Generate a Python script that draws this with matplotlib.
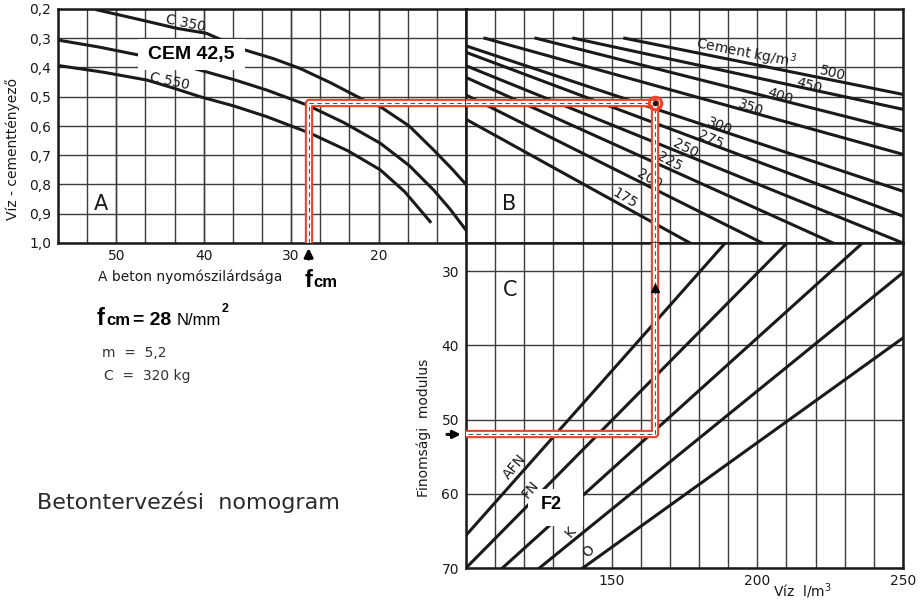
import numpy as np
import matplotlib.pyplot as plt
from matplotlib.patches import Rectangle

plt.rcParams['font.family'] = ['DejaVu Sans']

INK = '#1a1a1a'
GRID = '#3c3c3c'
RED = '#f0412a'

# ---- panel A: beton nyomószilárdsága vs víz-cementtényező (CEM 42,5)
a_x_ticks = [50, 40, 30, 20]
a_y_ticks = [0.2, 0.3, 0.4, 0.5, 0.6, 0.7, 0.8, 0.9, 1.0]
a_y_labels = ['0,2', '0,3', '0,4', '0,5', '0,6', '0,7', '0,8', '0,9', '1,0']

c350_x = [52.2, 47.5, 43.1, 39.7, 35.3, 32.0, 29.0, 25.5, 21.7, 19.8, 16.5, 13.7, 11.5, 10.0]
c350_y = [0.203, 0.235, 0.266, 0.283, 0.340, 0.370, 0.403, 0.452, 0.511, 0.534, 0.600, 0.682, 0.750, 0.800]
c450_x = [56.7, 52.0, 47.5, 44.0, 40.4, 36.5, 32.8, 28.2, 24.0, 19.8, 16.5, 13.7, 11.8, 10.0]
c450_y = [0.306, 0.330, 0.357, 0.382, 0.409, 0.442, 0.477, 0.528, 0.588, 0.659, 0.735, 0.819, 0.885, 0.956]
c550_x = [56.7, 51.5, 46.5, 43.5, 40.4, 36.5, 32.8, 27.8, 23.5, 19.8, 17.0, 14.1]
c550_y = [0.393, 0.416, 0.443, 0.470, 0.500, 0.532, 0.568, 0.625, 0.685, 0.750, 0.825, 0.927]

# ---- panel B: cement kg/m3 lines (víz vs víz-cementtényező)
b_cement = ['500', '450', '400', '350', '300', '275', '250', '225', '200', '175']
b_x0 = [154.5, 137.0, 124.0, 106.5, 100, 100, 100, 100, 100, 100]
b_y0 = [0.300, 0.300, 0.300, 0.300, 0.326, 0.348, 0.394, 0.434, 0.494, 0.577]
b_x1 = [250, 250, 250, 250, 250, 250, 250, 226.0, 201.7, 176.9]
b_y1 = [0.492, 0.543, 0.617, 0.697, 0.823, 0.908, 1.0, 1.0, 1.0, 1.0]
b_lab_x = [225.9, 217.6, 207.9, 197.6, 187.2, 183.8, 175.5, 169.7, 163.1, 154.5]
b_lab_y = [0.419, 0.462, 0.497, 0.539, 0.600, 0.648, 0.675, 0.723, 0.781, 0.846]
b_lab_rot = [-14, -16, -18, -20, -22, -24, -27, -28, -30, -31]

# ---- panel C: finomsági modulus vs víz l/m3
c_names = ['AFN', 'FN', 'F2', 'K', 'O']
c_x0 = [100, 100, 112.5, 125.2, 140.1]
c_y0 = [65.6, 70, 70, 70, 70]
c_x1 = [189.0, 210.2, 236.1, 250, 250]
c_y1 = [26.2, 26.2, 26.2, 30.2, 39.0]

# worked example: fcm = 28, w/c = 0,52, víz = 165, m = 5,2
ex_fcm = 28
ex_wc = 0.52
ex_water = 165
ex_fm = 52

fig = plt.figure(figsize=(9.23, 6.12), dpi=100)
ax_a = fig.add_axes([58 / 923, 1 - 243 / 612, 408 / 923, 234 / 612])
ax_b = fig.add_axes([466 / 923, 1 - 243 / 612, 437 / 923, 234 / 612])
ax_c = fig.add_axes([466 / 923, 1 - 568 / 612, 437 / 923, 325 / 612])


def frame(ax):
    ax.set_axisbelow(True)
    ax.grid(True, which='both', color=GRID, lw=1.0)
    ax.tick_params(which='both', length=0, colors=INK, labelsize=10)
    for s in ax.spines.values():
        s.set_color(INK)
        s.set_linewidth(1.8)


def red_path(ax, xs, ys):
    ax.plot(xs, ys, color=RED, lw=6.0, solid_capstyle='butt', solid_joinstyle='round', zorder=5)
    ax.plot(xs, ys, color='white', lw=3.0, solid_capstyle='butt', zorder=6)
    ax.plot(xs, ys, color='#555555', lw=0.8, ls=(0, (4, 3)), zorder=7)


# panel A
ax_a.set_xlim(56.67, 10)
ax_a.set_ylim(1.0, 0.2)
ax_a.set_xticks(a_x_ticks)
ax_a.set_xticks(np.linspace(10, 56.67, 15), minor=True)
ax_a.set_yticks(a_y_ticks, a_y_labels)
ax_a.tick_params(axis='x', pad=4)
ax_a.tick_params(axis='y', pad=5)
frame(ax_a)
for xs, ys in [(c350_x, c350_y), (c450_x, c450_y), (c550_x, c550_y)]:
    ax_a.plot(xs, ys, color=INK, lw=2.2, zorder=2, solid_joinstyle='round')
ax_a.add_patch(Rectangle((35.3, 0.301), 12.2, 0.108, facecolor='white', edgecolor='none', zorder=3))
ax_a.text(41.45, 0.356, 'CEM 42,5', family='Liberation Sans', weight='bold', fontsize=14,
          ha='center', va='center', color='black', zorder=4)
ax_a.text(42.1, 0.248, 'C 350', fontsize=10, rotation=-12, ha='center', va='center', color=INK, zorder=4)
ax_a.text(43.9, 0.446, 'C 550', fontsize=10, rotation=-12, ha='center', va='center', color=INK, zorder=4)
ax_a.text(51.8, 0.865, 'A', fontsize=15, ha='center', va='center', color=INK)
red_path(ax_a, [ex_fcm, ex_fcm, 10], [1.0, ex_wc, ex_wc])
ax_a.annotate('', xy=(ex_fcm, 1.008), xytext=(ex_fcm, 1.065), annotation_clip=False,
              arrowprops=dict(arrowstyle='-|>', color='black', lw=2.0, mutation_scale=13))
ax_a.set_ylabel('Víz - cementtényező', fontsize=10, color=INK)
ax_a.yaxis.set_label_coords(-0.093, 0.40)

# panel B
ax_b.set_xlim(100, 250)
ax_b.set_ylim(1.0, 0.2)
ax_b.set_xticks(np.arange(100, 251, 10))
ax_b.set_yticks(a_y_ticks)
ax_b.tick_params(labelbottom=False, labelleft=False)
frame(ax_b)
for x0, y0, x1, y1 in zip(b_x0, b_y0, b_x1, b_y1):
    ax_b.plot([x0, x1], [y0, y1], color=INK, lw=2.2, zorder=2)
for lab, lx, ly, rot in zip(b_cement, b_lab_x, b_lab_y, b_lab_rot):
    ax_b.text(lx, ly, lab, fontsize=10, rotation=rot, ha='center', va='center', color=INK, zorder=4)
ax_b.text(196.2, 0.352, 'Cement kg/m$^3$', fontsize=10, rotation=-11, ha='center', va='center', color=INK)
ax_b.text(114.8, 0.865, 'B', fontsize=15, ha='center', va='center', color=INK)
red_path(ax_b, [100, ex_water, ex_water], [ex_wc, ex_wc, 1.0])
ax_b.plot(ex_water, ex_wc, 'o', mfc='none', mec=RED, ms=9, mew=2.2, zorder=8)
ax_b.plot(ex_water, ex_wc, 'o', color=INK, ms=3, zorder=9)

# panel C
ax_c.set_xlim(100, 250)
ax_c.set_ylim(70, 26.2)
ax_c.set_xticks([150, 200, 250])
ax_c.set_xticks(np.arange(100, 251, 10), minor=True)
ax_c.set_yticks([30, 40, 50, 60, 70])
ax_c.tick_params(axis='y', pad=5)
ax_c.tick_params(axis='x', pad=4)
frame(ax_c)
for x0, y0, x1, y1 in zip(c_x0, c_y0, c_x1, c_y1):
    ax_c.plot([x0, x1], [y0, y1], color=INK, lw=2.2, zorder=2)
ax_c.add_patch(Rectangle((121.3, 59.4), 18.7, 5.0, facecolor='white', edgecolor='none', zorder=3))
ax_c.text(129.3, 61.4, 'F2', family='Liberation Sans', weight='bold', fontsize=13,
          ha='center', va='center', color='black', zorder=4)
for lab, lx, ly in [('AFN', 116.7, 56.4), ('FN', 122.0, 59.4), ('K', 136.0, 65.2), ('O', 142.2, 67.8)]:
    ax_c.text(lx, ly, lab, fontsize=10, rotation=50, ha='center', va='center', color=INK, zorder=4)
ax_c.text(115.3, 32.5, 'C', fontsize=15, ha='center', va='center', color=INK)
red_path(ax_c, [ex_water, ex_water, 100], [26.2, ex_fm, ex_fm])
ax_c.plot(ex_water, 32.3, marker='^', color='black', ms=6, zorder=9)
ax_c.annotate('', xy=(99.2, ex_fm), xytext=(92.5, ex_fm), annotation_clip=False,
              arrowprops=dict(arrowstyle='-|>', color='black', lw=2.2, mutation_scale=11))
ax_c.set_ylabel('Finomsági  modulus', fontsize=10, color=INK)
ax_c.yaxis.set_label_coords(-0.08, 0.43)
ax_c.text(0.77, -0.07, 'Víz  l/m$^3$', transform=ax_c.transAxes, fontsize=10,
          ha='center', va='center', color=INK)

# texts on the left
fig.text(190 / 923, 1 - 277 / 612, 'A beton nyomószilárdsága', fontsize=10, ha='center', va='center', color=INK)
fig.text(305 / 923, 1 - 287 / 612, 'f', family='Liberation Sans', weight='bold', fontsize=17, color='black')
fig.text(313 / 923, 1 - 287 / 612, 'cm', family='Liberation Sans', weight='bold', fontsize=12, color='black')

y_f = 1 - 325 / 612
fig.text(97 / 923, y_f, 'f', family='Liberation Sans', weight='bold', fontsize=17, color='black')
fig.text(106 / 923, y_f, 'cm', family='Liberation Sans', weight='bold', fontsize=12, color='black')
fig.text(133 / 923, y_f, '= 28', family='Liberation Sans', weight='bold', fontsize=14, color='black')
fig.text(177 / 923, y_f, 'N/mm', family='Liberation Sans', fontsize=12, color='black')
fig.text(222 / 923, 1 - 312 / 612, '2', family='Liberation Sans', weight='bold', fontsize=9, color='black')
fig.text(102 / 923, 1 - 357 / 612, 'm  =  5,2', fontsize=10, color='#333333')
fig.text(104 / 923, 1 - 380 / 612, 'C  =  320 kg', fontsize=10, color='#333333')
fig.text(188 / 923, 1 - 502 / 612, 'Betontervezési  nomogram', fontsize=16,
         ha='center', va='center', color='#2a2a2a')

fig.savefig('out.png', dpi=100, facecolor='white')
